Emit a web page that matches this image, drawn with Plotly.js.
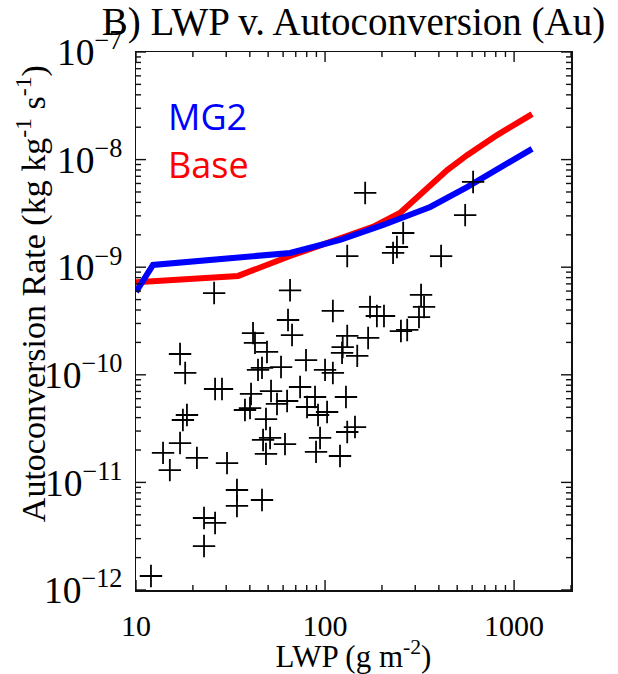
<!DOCTYPE html>
<html>
<head>
<meta charset="utf-8">
<script src="https://cdn.plot.ly/plotly-3.0.1.min.js"></script>
<style>html,body{margin:0;padding:0;background:#fff;}#chart{width:618px;height:674px;}</style>
</head>
<body>
<div id="chart"></div>
<script>
// Scatter observations (LWP in g m-2, Au in kg kg-1 s-1)
var obsLWP = [25.9, 65.3, 163, 607, 551, 259, 240, 229, 131, 411,
  63.7, 66.9, 41.6, 42.6, 49.3, 110, 173, 188, 205, 322,
  334, 314, 272, 252, 131, 169, 124, 123, 148, 79.3,
  44.2, 46.4, 58.5, 100, 110, 73.8, 51.8, 40.6, 37.7, 40.1,
  63.0, 55.7, 88.5, 80.3, 91.8, 102.5, 129, 48.7, 47.0, 51.2,
  61.4, 94.1, 131, 144, 48.7, 89.6, 120,
  17.1, 18.2, 26.2, 28.5, 18.6, 17.7, 17.1, 13.9, 15.1, 21.0, 30.3, 34.2, 34.2, 46.4, 22.9, 26.2, 22.9, 12.0];
var obsAu = [5.75e-10, 6.1e-10, 4.9e-9, 6.2e-9, 3.05e-9, 2.08e-9, 1.54e-9, 1.36e-9, 1.27e-9, 1.27e-9,
  3.23e-10, 2.34e-10, 2.44e-10, 1.98e-10, 1.63e-10, 3.92e-10, 4.27e-10, 3.52e-10, 3.52e-10, 5.52e-10,
  4.27e-10, 3.44e-10, 2.61e-10, 2.55e-10, 2.30e-10, 2.20e-10, 1.81e-10, 1.60e-10, 1.50e-10, 1.37e-10,
  1.11e-10, 1.16e-10, 1.18e-10, 1.11e-10, 1.04e-10, 7.7e-11, 7.06e-11, 6.64e-11, 4.71e-11, 4.91e-11,
  5.71e-11, 5.36e-11, 6.22e-11, 5.02e-11, 4.23e-11, 4.51e-11, 6.22e-11, 3.88e-11, 2.48e-11, 2.59e-11,
  2.27e-11, 2.59e-11, 2.94e-11, 3.27e-11, 1.84e-11, 1.92e-11, 1.76e-11,
  1.56e-10, 1.04e-10, 7.38e-11, 7.38e-11, 4.23e-11, 3.80e-11, 2.32e-11, 1.88e-11, 1.30e-11, 1.69e-11, 1.51e-11, 8.5e-12, 6.04e-12, 6.86e-12, 4.67e-12, 4.2e-12, 2.56e-12, 1.35e-12];

// Model curves
var mg2LWP = [10, 12.3, 65.3, 120, 203, 360, 564, 813, 1245];
var mg2Au  = [5.9e-10, 1.05e-9, 1.355e-9, 1.79e-9, 2.47e-9, 3.63e-9, 5.56e-9, 8.0e-9, 1.26e-8];
var baseLWP = [10, 34.7, 65.3, 120, 179, 249, 330, 443, 564, 813, 1245];
var baseAu  = [7.24e-10, 8.3e-10, 1.27e-9, 1.87e-9, 2.37e-9, 3.19e-9, 4.9e-9, 8.0e-9, 1.10e-8, 1.69e-8, 2.65e-8];

// Tick labels / positions
var xTickVals = [10, 100, 1000];
var xTickText = ['10', '100', '1000'];
var yTickVals = [1e-12, 1e-11, 1e-10, 1e-9, 1e-8, 1e-7];
var minorDigits = [2, 3, 4, 5, 6, 7, 8, 9];
var xMinor = [];
[10, 100, 1000].forEach(function (d) { minorDigits.forEach(function (k) { if (k * d <= 2000) xMinor.push(k * d); }); });
var yMinor = [];
[1e-12, 1e-11, 1e-10, 1e-9, 1e-8].forEach(function (d) { minorDigits.forEach(function (k) { yMinor.push(k * d); }); });

var serif = 'Liberation Serif, Times New Roman, serif';
var xRange = [1, 3.301];
var yRange = [-12, -7];

// Inside tick marks on all four sides, built from the axis ranges (lengths in pixels)
var plotW = 618 - 136 - 47, plotH = 674 - 52 - 84;
var pxPerDecX = plotW / (xRange[1] - xRange[0]);
var pxPerDecY = plotH / (yRange[1] - yRange[0]);
var tx = [], ty = [];
function xTick(v, len) {
  var d = len / pxPerDecY;
  tx.push(v, v, null, v, v, null);
  ty.push(Math.pow(10, yRange[0]), Math.pow(10, yRange[0] + d), null,
          Math.pow(10, yRange[1]), Math.pow(10, yRange[1] - d), null);
}
function yTick(v, len) {
  var d = len / pxPerDecX;
  ty.push(v, v, null, v, v, null);
  tx.push(Math.pow(10, xRange[0]), Math.pow(10, xRange[0] + d), null,
          Math.pow(10, xRange[1]), Math.pow(10, xRange[1] - d), null);
}
xTickVals.forEach(function (v) { xTick(v, 10); });
xMinor.forEach(function (v) { xTick(v, 5); });
yTickVals.forEach(function (v) { yTick(v, 10); });
yMinor.forEach(function (v) { yTick(v, 5); });

var traces = [
  {x: baseLWP, y: baseAu, type: 'scatter', mode: 'lines', name: 'Base',
   line: {color: '#ff0000', width: 6}},
  {x: mg2LWP, y: mg2Au, type: 'scatter', mode: 'lines', name: 'MG2',
   line: {color: '#0000ff', width: 6}},
  {x: obsLWP, y: obsAu, type: 'scatter', mode: 'markers', name: 'Obs',
   marker: {symbol: 'cross-thin', size: 16, color: '#000', line: {color: '#000', width: 1.8}}},
  {x: tx, y: ty, type: 'scatter', mode: 'lines', name: 'ticks', connectgaps: false,
   line: {color: '#111', width: 1.4}, hoverinfo: 'skip'}
];

var axisCommon = {
  type: 'log', showgrid: false, zeroline: false,
  showline: true, linecolor: '#111', linewidth: 1.5, mirror: true,
  ticks: '', tickfont: {family: serif, size: 30, color: '#000'}
};

var layout = {
  width: 618, height: 674,
  margin: {l: 136, r: 47, t: 52, b: 84},
  paper_bgcolor: '#fff', plot_bgcolor: '#fff',
  showlegend: false,
  title: {text: 'B) LWP v. Autoconversion (Au)', font: {family: serif, size: 39, color: '#000'},
          x: 0.572, xanchor: 'center', xref: 'container', y: 0.988, yanchor: 'top', yref: 'container'},
  xaxis: Object.assign({}, axisCommon, {
    range: xRange, tickvals: xTickVals, ticktext: xTickText, ticklabelstandoff: 8,
    title: {text: 'LWP (g m<sup>-2</sup>)', font: {family: serif, size: 31, color: '#000'}, standoff: 0}
  }),
  yaxis: Object.assign({}, axisCommon, {
    range: yRange, dtick: 1, exponentformat: 'power', showexponent: 'all', ticklabelstandoff: 6
  }),
  annotations: [
    {text: 'Autoconversion Rate (kg kg<sup>-1</sup> s<sup>-1</sup>)', textangle: -90,
     xref: 'paper', yref: 'paper', x: -0.241, y: (590 - 294) / 538, xanchor: 'center', yanchor: 'middle',
     showarrow: false, font: {family: serif, size: 34, color: '#000'}},
    {text: 'MG2', xref: 'paper', yref: 'paper', x: 0.07, y: (590 - 116) / 538,
     xanchor: 'left', yanchor: 'middle', showarrow: false,
     font: {family: 'Open Sans, sans-serif', size: 36, color: '#0000ff'}},
    {text: 'Base', xref: 'paper', yref: 'paper', x: 0.07, y: (590 - 165) / 538,
     xanchor: 'left', yanchor: 'middle', showarrow: false,
     font: {family: 'Open Sans, sans-serif', size: 36, color: '#ff0000'}}
  ]
};

Plotly.newPlot('chart', traces, layout, {displayModeBar: false, staticPlot: true});
</script>
</body>
</html>
